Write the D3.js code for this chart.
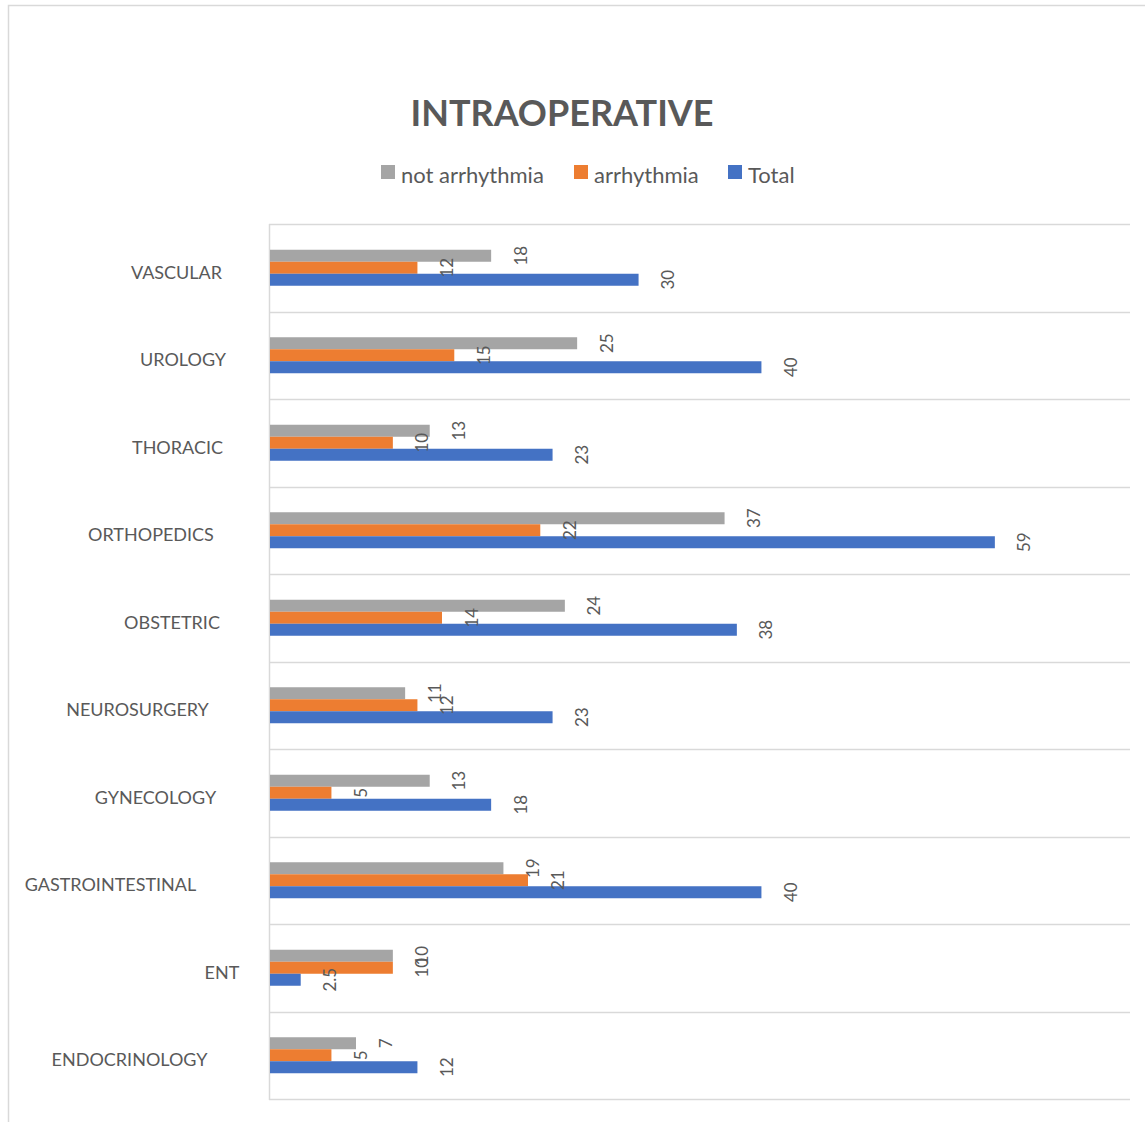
<!DOCTYPE html>
<html>
<head>
<meta charset="utf-8">
<script src="https://cdn.jsdelivr.net/npm/d3@7"></script>
<style>
  html, body { margin: 0; padding: 0; background: #fff; }
  svg { display: block; }
</style>
</head>
<body>
<script>
// ---- data ----
const title = "INTRAOPERATIVE";
const categories = ["VASCULAR", "UROLOGY", "THORACIC", "ORTHOPEDICS", "OBSTETRIC",
  "NEUROSURGERY", "GYNECOLOGY", "GASTROINTESTINAL", "ENT", "ENDOCRINOLOGY"];
const seriesNames = ["not arrhythmia", "arrhythmia", "Total"];
const notArrhythmia = [18, 25, 13, 37, 24, 11, 13, 19, 10, 7];
const arrhythmia    = [12, 15, 10, 22, 14, 12, 5, 21, 10, 5];
const total         = [30, 40, 23, 59, 38, 23, 18, 40, 2.5, 12];
const labelTexts = {
  "not arrhythmia": ["18", "25", "13", "37", "24", "11", "13", "19", "10", "7"],
  "arrhythmia":     ["12", "15", "10", "22", "14", "12", "5", "21", "10", "5"],
  "Total":          ["30", "40", "23", "59", "38", "23", "18", "40", "2.5", "12"]
};

// ---- layout / style ----
const W = 1145, H = 1122;
const colors = { "not arrhythmia": "#A5A5A5", "arrhythmia": "#ED7D31", "Total": "#4472C4" };
const labelCenters = [176.5, 183, 177.5, 151, 172, 137.5, 155.5, 110.5, 222, 129.5];
const font = "Lato, 'Open Sans', sans-serif";
const textColor = "#595959";
const gridColor = "#D9D9D9";

const seriesValues = [notArrhythmia, arrhythmia, total];
const rows = categories.map((c, i) => ({
  cat: c, i,
  vals: seriesNames.map((s, k) => ({ series: s, value: seriesValues[k][i], label: labelTexts[s][i] }))
}));

const svg = d3.select("body").append("svg").attr("width", W).attr("height", H);

// outer chart border
svg.append("rect").attr("x", 8.5).attr("y", 5.5).attr("width", 1200).attr("height", 1200)
  .attr("fill", "none").attr("stroke", gridColor).attr("stroke-width", 1.5);

const x = d3.scaleLinear().domain([0, 70]).range([270, 1130]);
const y = d3.scaleBand().domain(categories).range([224, 1099]).paddingInner(0).paddingOuter(0);
const ySub = d3.scaleBand().domain(seriesNames).range([0, y.bandwidth()])
  .paddingInner(0).paddingOuter((y.bandwidth() / 12 - 3) / 2);

// horizontal category separators
const bounds = categories.map(c => y(c)).concat([y.range()[1]]);
svg.append("g").selectAll("line").data(bounds).join("line")
  .attr("x1", 269).attr("x2", 1130)
  .attr("y1", d => Math.round(d) + 0.5).attr("y2", d => Math.round(d) + 0.5)
  .attr("stroke", gridColor).attr("stroke-width", 1.5);
// category axis line
svg.append("line").attr("x1", 269.5).attr("x2", 269.5).attr("y1", 224).attr("y2", 1100)
  .attr("stroke", gridColor).attr("stroke-width", 1.5);

// bars
const g = svg.append("g").selectAll("g").data(rows).join("g")
  .attr("transform", d => `translate(0,${y(d.cat)})`);
g.selectAll("rect").data(d => d.vals).join("rect")
  .attr("x", x(0))
  .attr("y", d => ySub(d.series))
  .attr("width", d => x(d.value) - x(0))
  .attr("height", ySub.bandwidth())
  .attr("fill", d => colors[d.series]);

// data labels (rotated)
g.selectAll("text").data(d => d.vals).join("text")
  .attr("transform", d => `translate(${x(d.value) + 29},${ySub(d.series) + ySub.bandwidth() / 2}) rotate(-90)`)
  .attr("text-anchor", "middle").attr("dominant-baseline", "central")
  .attr("font-family", font).attr("font-size", 17).attr("fill", textColor)
  .text(d => d.label);

// category labels
svg.append("g").selectAll("text").data(categories).join("text")
  .attr("x", (d, i) => labelCenters[i])
  .attr("y", d => y(d) + y.bandwidth() / 2 + 4)
  .attr("text-anchor", "middle").attr("dominant-baseline", "central")
  .attr("font-family", font).attr("font-size", 18).attr("fill", textColor)
  .text(d => d);

// title
svg.append("text").attr("x", 562).attr("y", 126)
  .attr("text-anchor", "middle")
  .attr("font-family", font).attr("font-weight", "bold").attr("font-size", 36)
  .attr("fill", textColor).text(title);

// legend
const legendX = [381, 574, 728];
const lg = svg.append("g").selectAll("g").data(seriesNames).join("g")
  .attr("transform", (d, i) => `translate(${legendX[i]},165)`);
lg.append("rect").attr("width", 14).attr("height", 14).attr("fill", d => colors[d]);
lg.append("text").attr("x", 20).attr("y", 18)
  .attr("font-family", font).attr("font-size", 22).attr("fill", textColor)
  .text(d => d);
</script>
</body>
</html>
